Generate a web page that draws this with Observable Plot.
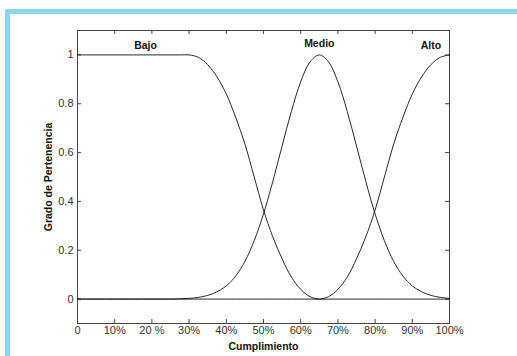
<!DOCTYPE html>
<html>
<head>
<meta charset="utf-8">
<script src="https://cdn.jsdelivr.net/npm/d3@7"></script>
<script src="https://cdn.jsdelivr.net/npm/@observablehq/plot@0.6"></script>
<style>
  html, body { margin: 0; padding: 0; background: #fff; }
  #wrap { position: relative; width: 517px; height: 356px; overflow: hidden; }
  #frame { position: absolute; left: 5px; top: 9px; width: 600px; height: 400px;
           border-top: 5px solid #8ed5f3; border-left: 5px solid #8ed5f3; }
  #chart { position: absolute; left: 0; top: 0; }
  #chart svg { font-family: "Liberation Sans", Arial, sans-serif; }
</style>
</head>
<body>
<div id="wrap"><div id="frame"></div><div id="chart"></div></div>
<script>
// Membership values (x in %)
const xPct = [0, 2.5, 5, 7.5, 10, 12.5, 15, 17.5, 20, 22.5, 25, 27.5, 30, 32.5, 35, 37.5, 40, 42.5, 45, 47.5, 50,
              52.5, 55, 57.5, 60, 62.5, 65, 67.5, 70, 72.5, 75, 77.5, 80, 82.5, 85, 87.5, 90, 92.5, 95, 97.5, 100];
const bajo = [1, 1, 1, 1, 1, 1, 1, 1, 1, 1, 1, 1, 1, 0.99, 0.96, 0.91, 0.84, 0.745, 0.635, 0.5, 0.365,
              0.255, 0.165, 0.09, 0.04, 0.01, 0, 0, 0, 0, 0, 0, 0, 0, 0, 0, 0, 0, 0, 0, 0];
const medio = [0, 0, 0, 0, 0, 0, 0, 0, 0, 0, 0, 0.001, 0.003, 0.007, 0.015, 0.03, 0.054, 0.094, 0.154, 0.239, 0.349,
               0.482, 0.627, 0.769, 0.89, 0.971, 1, 0.971, 0.89, 0.769, 0.627, 0.482, 0.349, 0.239, 0.154, 0.094, 0.054, 0.03, 0.015, 0.007, 0.003];
const alto = [0, 0, 0, 0, 0, 0, 0, 0, 0, 0, 0, 0, 0, 0, 0, 0, 0, 0, 0, 0, 0,
              0, 0, 0, 0, 0, 0, 0.01, 0.04, 0.09, 0.165, 0.255, 0.365, 0.5, 0.635, 0.745, 0.84, 0.91, 0.96, 0.99, 1];

const seriesNames = ["Bajo", "Medio", "Alto"];
const labelX = [18.3, 65, 95];
const labelY = [1.04, 1.045, 1.04];

const xTicks = [0, 10, 20, 30, 40, 50, 60, 70, 80, 90, 100];
const xTickLabels = ["0", "10%", "20 %", "30%", "40%", "50%", "60%", "70%", "80%", "90%", "100%"];
const yTicks = [0, 0.2, 0.4, 0.6, 0.8, 1];
const yTickLabels = ["0", "0.2", "0.4", "0.6", "0.8", "1"];

const rows = [];
[bajo, medio, alto].forEach((vals, s) => {
  vals.forEach((v, i) => rows.push({series: seriesNames[s], x: xPct[i], y: v}));
});
const labels = seriesNames.map((n, i) => ({name: n, x: labelX[i], y: labelY[i]}));

const W = 517, H = 356;
const mL = 77, mR = 68, mT = 30, mB = 33;
const fw = W - mL - mR, fh = H - mT - mB;
const tl = 4;

const chart = Plot.plot({
  width: W, height: H,
  marginLeft: mL, marginRight: mR, marginTop: mT, marginBottom: mB,
  style: {background: "transparent", fontSize: "11px", color: "#222"},
  x: {domain: [0, 100]},
  y: {domain: [-0.1, 1.1]},
  marks: [
    Plot.frame({stroke: "#444", strokeWidth: 1}),
    // inward ticks, all four sides
    Plot.tickX(xTicks, {x: d => d, stroke: "#444", insetTop: fh - tl}),
    Plot.tickX(xTicks, {x: d => d, stroke: "#444", insetBottom: fh - tl}),
    Plot.tickY(yTicks, {y: d => d, stroke: "#444", insetRight: fw - tl}),
    Plot.tickY(yTicks, {y: d => d, stroke: "#444", insetLeft: fw - tl}),
    Plot.axisX(xTicks, {tickSize: 0, tickPadding: 3, tickFormat: (d, i) => xTickLabels[i], label: null, fill: "#333"}),
    Plot.axisY(yTicks, {tickSize: 0, tickPadding: 4, tickFormat: (d, i) => yTickLabels[i], label: null, fill: "#333"}),
    Plot.line(rows, {x: "x", y: "y", z: "series", stroke: "#111", strokeWidth: 0.9, curve: "catmull-rom"}),
    Plot.text(labels, {x: "x", y: "y", text: "name", fontWeight: "bold", fontSize: 10.5, fill: "#111"}),
    Plot.text(["Cumplimiento"], {frameAnchor: "bottom", dy: 23, lineAnchor: "middle", textAnchor: "middle", text: d => d, fontWeight: "bold", fontSize: 10.5, fill: "#111"}),
    Plot.text(["Grado de Pertenencia"], {frameAnchor: "left", dx: -29, rotate: -90, lineAnchor: "middle", textAnchor: "middle", text: d => d, fontWeight: "bold", fontSize: 10.5, fill: "#111"})
  ]
});
document.getElementById("chart").appendChild(chart);
</script>
</body>
</html>
